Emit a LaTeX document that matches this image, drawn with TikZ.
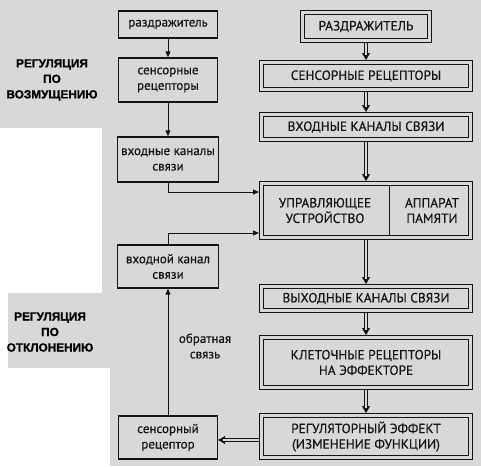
\documentclass[tikz,border=0pt]{standalone}
\usepackage{fontspec}
\setmainfont{PT Sans}[FakeBold=0.5]
\newfontfamily\titlefont{Liberation Sans}[BoldFeatures={FakeBold=1}]
\usetikzlibrary{arrows.meta,calc}
\definecolor{bg}{RGB}{216,216,216}
\definecolor{ink}{RGB}{20,20,20}
\begin{document}
\begin{tikzpicture}[x=1pt,y=-1pt,
  lbox/.style={draw=ink, line width=1.3pt, align=center, inner sep=0pt,
    minimum width=99pt, text=ink, font=\fontsize{13}{15.5}\selectfont},
  rbox/.style={draw=ink, line width=1pt, double=bg, double distance=3pt,
    outer sep=2.5pt, inner sep=0pt, minimum width=209pt, align=center,
    text=ink, font=\fontsize{13.3}{15.5}\selectfont},
  txt/.style={align=center, inner sep=0pt, text=ink, font=\fontsize{13.3}{15.5}\selectfont},
  lbl/.style={align=center, inner sep=0pt, text=ink, font=\fontsize{13}{15.5}\selectfont},
  title/.style={align=center, inner sep=0pt, text=black, font=\titlefont\fontsize{11.8}{15.5}\selectfont\bfseries},
  larrow/.style={draw=ink, line width=1pt, -{Triangle[length=6pt,width=5pt]}},
  darrow/.style={draw=ink, line width=0.6pt, -{Triangle[length=7pt,width=8pt]},
    postaction={draw=ink, -, line width=0.85pt, double=bg, double distance=2.6pt, shorten >=5pt}}
]
\fill[bg] (0,0) rectangle (481,466);
\fill[white] (0,128) rectangle (102,293);
\fill[white] (0,293) rectangle (8,368);
\fill[white] (0,368) rectangle (110,466);
\useasboundingbox (0,0) rectangle (481,466);

% titles
\node[title] (t1) at (52,80) {РЕГУЛЯЦИЯ\\ПО\\ВОЗМУЩЕНИЮ};
\node[title] (t2) at (50,332) {РЕГУЛЯЦИЯ\\ПО\\ОТКЛОНЕНИЮ};

% left column
\node[lbox, minimum height=27pt] (l1) at (168,24.5) {раздражитель};
\node[lbox, minimum height=44pt] (l2) at (168,80) {сенсорные\\рецепторы};
\node[lbox, minimum height=45pt, minimum width=101pt] (l3) at (168,159.5) {входные каналы\\связи};
\node[lbox, minimum height=43pt, minimum width=101pt] (l4) at (168,266.5) {входной канал\\связи};
\node[lbox, minimum height=43pt] (l5) at (168,437.5) {сенсорный\\рецептор};
\node[lbl] (fbl) at (205,346) {обратная\\связь};

% right column
\node[rbox, minimum width=127pt, minimum height=28pt] (r1) at (366,26.5) {РАЗДРАЖИТЕЛЬ};
\node[rbox, minimum height=27pt] (r2) at (366,76) {СЕНСОРНЫЕ РЕЦЕПТОРЫ};
\node[rbox, minimum height=25pt] (r3) at (366,127) {ВХОДНЫЕ КАНАЛЫ СВЯЗИ};
\node[rbox, minimum height=54pt] (ctrl) at (366,210.5) {};
\node[txt] (cu) at (325,210.5) {УПРАВЛЯЮЩЕЕ\\УСТРОЙСТВО};
\node[txt] (cm) at (432,210.5) {АППАРАТ\\ПАМЯТИ};
\coordinate (dv) at (389,0);
\draw[draw=ink, line width=1pt] ([yshift=-4.3pt]ctrl.north -| dv) -- ([yshift=4.3pt]ctrl.south -| dv);
\node[rbox, minimum height=24pt] (r5) at (366,298.5) {ВЫХОДНЫЕ КАНАЛЫ СВЯЗИ};
\node[rbox, minimum height=50pt] (r6) at (366,362.5) {КЛЕТОЧНЫЕ РЕЦЕПТОРЫ\\НА ЭФФЕКТОРЕ};
\node[rbox, minimum height=42pt] (r7) at (366,436.5) {РЕГУЛЯТОРНЫЙ ЭФФЕКТ\\(ИЗМЕНЕНИЕ ФУНКЦИИ)};

% connectors
\coordinate (in1) at (0,192);
\coordinate (in2) at (0,233);
\coordinate (fb) at (0,440);
\draw[larrow] (l1) -- (l2);
\draw[larrow] (l2) -- (l3);
\draw[larrow] (l3.south) |- (ctrl.west |- in1);
\draw[larrow] (l4.north) |- (ctrl.west |- in2);
\draw[larrow] (l5) -- (l4);

\draw[darrow] (r1) -- (r2);
\draw[darrow] (r2) -- (r3);
\draw[darrow] (r3) -- (ctrl);
\draw[darrow] (ctrl) -- (r5);
\draw[darrow] (r5) -- (r6);
\draw[darrow] (r6) -- (r7);
\draw[darrow] (r7.west |- fb) -- (l5.east |- fb);
\end{tikzpicture}
\end{document}
